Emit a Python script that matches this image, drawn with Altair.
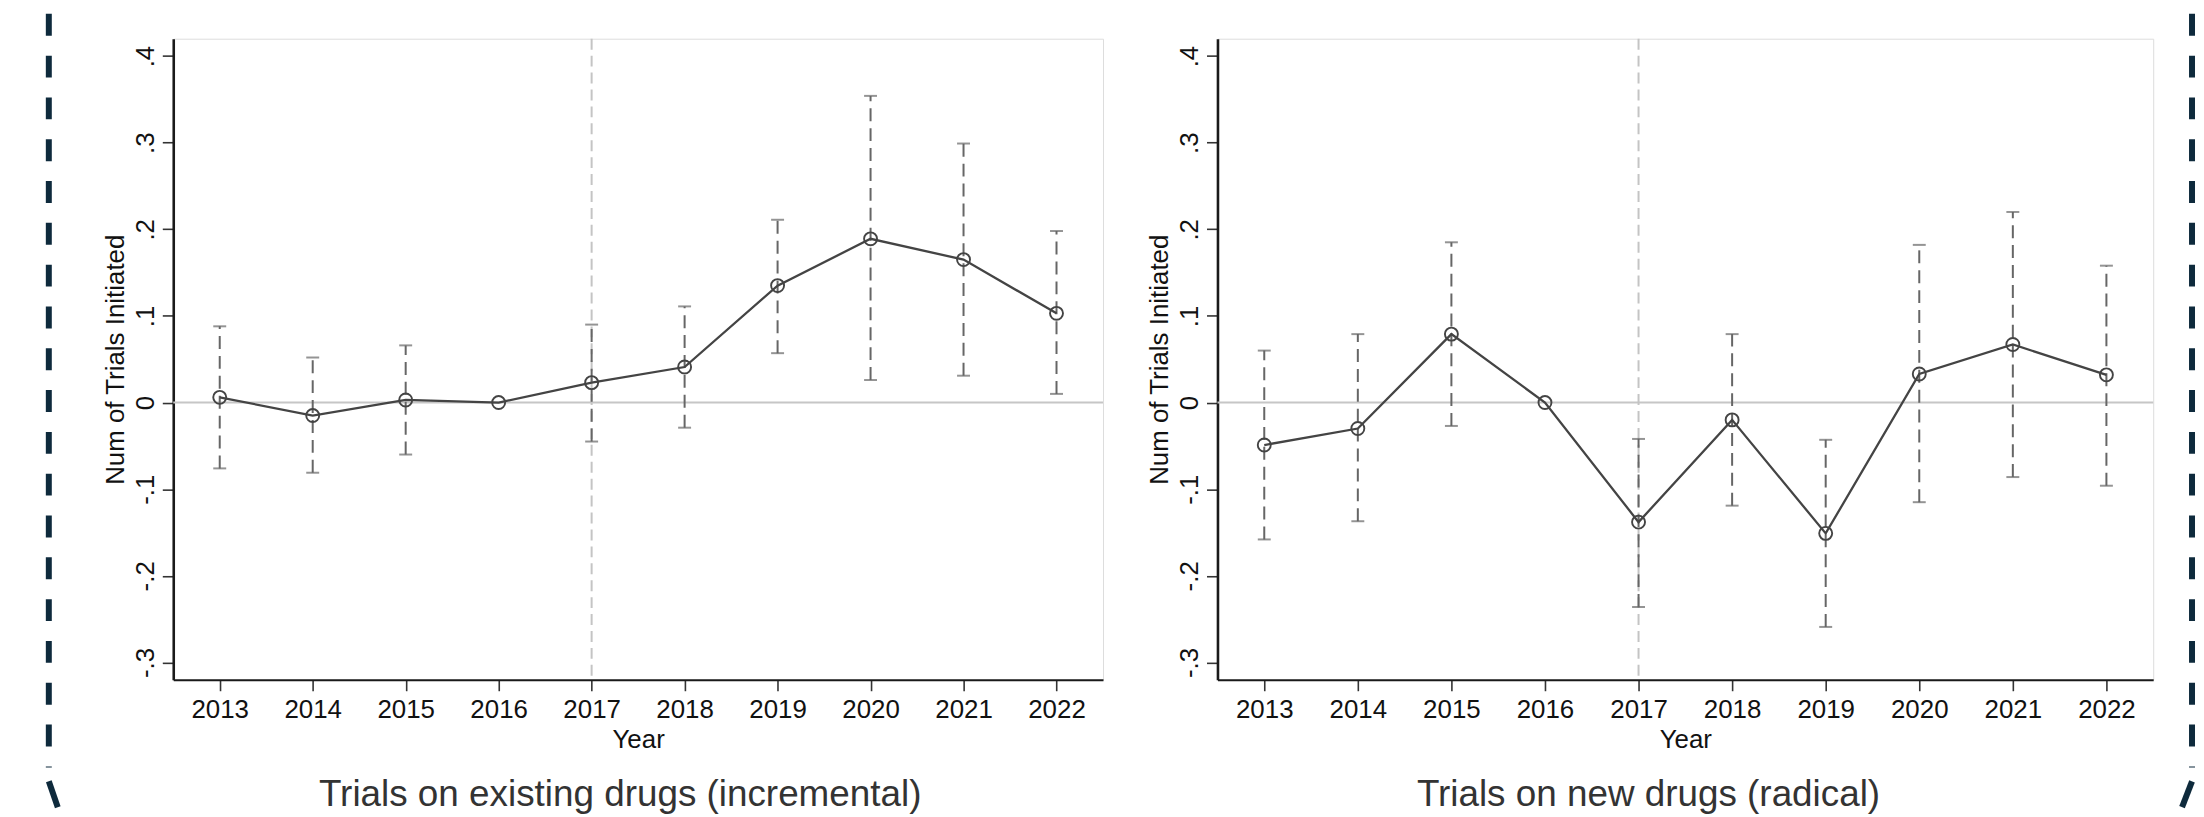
import altair as alt
import pandas as pd

# ---------------- data ----------------
years = [2013, 2014, 2015, 2016, 2017, 2018, 2019, 2020, 2021, 2022]
y_ticks = [-0.3, -0.2, -0.1, 0.0, 0.1, 0.2, 0.3, 0.4]

inc_coef = [0.006, -0.015, 0.003, 0.0, 0.023, 0.041, 0.135, 0.189, 0.165, 0.103]
inc_lo = [-0.076, -0.081, -0.060, None, -0.045, -0.029, 0.057, 0.026, 0.031, 0.010]
inc_hi = [0.088, 0.052, 0.066, None, 0.090, 0.111, 0.211, 0.354, 0.299, 0.198]

rad_coef = [-0.049, -0.030, 0.079, 0.0, -0.138, -0.020, -0.151, 0.033, 0.067, 0.032]
rad_lo = [-0.158, -0.137, -0.027, None, -0.236, -0.119, -0.259, -0.115, -0.086, -0.096]
rad_hi = [0.060, 0.079, 0.185, None, -0.042, 0.079, -0.043, 0.182, 0.220, 0.158]

captions = ["Trials on existing drugs (incremental)", "Trials on new drugs (radical)"]
ref_year = [2017]
zero_value = [0.0]

FONT = "Liberation Sans"
LINE = "#444444"
BAR = "#666666"
NAVY = "#0e2a3c"
PLOT_H = 644

y_label_expr = ("datum.value == 0 ? '0' : (datum.value < 0 ? '-' : '') + '.' + "
                "format(abs(datum.value) * 10, '.0f')")


def x_enc(field):
    return alt.X(
        f"{field}:Q",
        scale=alt.Scale(domain=[2012.5, 2022.5], nice=False, zero=False),
        axis=alt.Axis(values=years, format="d", title="Year", grid=False,
                      tickSize=11, tickWidth=1.6, tickColor="#333",
                      domainColor="#1a1a1a", domainWidth=2.2,
                      labelFont=FONT, labelFontSize=26, labelColor="#111",
                      labelPadding=6, labelFlush=False,
                      titleFont=FONT, titleFontSize=26, titleFontWeight="normal",
                      titleColor="#111", titlePadding=4),
    )


def y_enc(field):
    return alt.Y(
        f"{field}:Q",
        scale=alt.Scale(domain=[-0.32, 0.42], nice=False, zero=False),
        axis=alt.Axis(values=y_ticks, labelExpr=y_label_expr,
                      title="Num of Trials Initiated", grid=False,
                      tickSize=11, tickWidth=1.6, tickColor="#333",
                      domainColor="#1a1a1a", domainWidth=2.6,
                      labelFont=FONT, labelFontSize=26, labelColor="#111",
                      labelAngle=270, labelAlign="center", labelBaseline="bottom",
                      labelPadding=4, labelFlush=False,
                      titleFont=FONT, titleFontSize=26, titleFontWeight="normal",
                      titleColor="#111", titlePadding=4),
    )


def panel(coef, lo, hi, caption, width, dx, deco):
    df = pd.DataFrame({"year": years, "coef": coef, "lo": lo, "hi": hi})
    base = alt.Chart(df)
    bars = base.transform_filter("isValid(datum.lo)")

    zero = alt.Chart(pd.DataFrame({"v": zero_value})).mark_rule(
        color="#c6c6c6", strokeWidth=2).encode(y=y_enc("v"))
    vline = alt.Chart(pd.DataFrame({"yr": ref_year})).mark_rule(
        color="#c4c4c4", strokeWidth=2, strokeDash=[11, 6]).encode(x=x_enc("yr"))

    err = bars.mark_rule(color=BAR, strokeWidth=2, strokeDash=[13, 7]).encode(
        x=x_enc("year"), y=y_enc("lo"), y2="hi:Q")
    cap_lo = bars.mark_tick(color=BAR, size=13, thickness=2, orient="horizontal").encode(
        x=x_enc("year"), y=y_enc("lo"))
    cap_hi = bars.mark_tick(color=BAR, size=13, thickness=2, orient="horizontal").encode(
        x=x_enc("year"), y=y_enc("hi"))
    line = base.mark_line(color=LINE, strokeWidth=2.3).encode(
        x=x_enc("year"), y=y_enc("coef"))
    pts = base.mark_point(shape="circle", filled=False, size=170, color=LINE,
                          strokeWidth=1.9, opacity=1).encode(
        x=x_enc("year"), y=y_enc("coef"))

    # decorative dashed bracket of the slide (not data)
    one = pd.DataFrame({"k": [0]})
    dash = alt.Chart(one).mark_rule(color=NAVY, strokeWidth=6, strokeDash=[22, 20]).encode(
        x=alt.value(deco[0]), y=alt.value(-25), y2=alt.value(732))
    curve = alt.Chart(one).mark_rule(color=NAVY, strokeWidth=6).encode(
        x=alt.value(deco[1]), x2=alt.value(deco[2]), y=alt.value(746), y2=alt.value(772))

    return alt.layer(zero, vline, err, cap_lo, cap_hi, line, pts, dash, curve).properties(
        width=width, height=PLOT_H,
        title=alt.TitleParams(caption, orient="bottom", anchor="middle", frame="group",
                              font=FONT, fontSize=37, fontWeight="normal", color="#333",
                              offset=-33, dx=dx),
    )


left = panel(inc_coef, inc_lo, inc_hi, captions[0], 934, -18, (-125, -125, -116))
right = panel(rad_coef, rad_lo, rad_hi, captions[1], 940, -37, (979, 979, 969))

chart = alt.hconcat(left, right, spacing=41).properties(
    padding={"left": 37, "top": 0, "right": 0, "bottom": 0}
).configure_view(stroke="#555", strokeWidth=2).configure(background="white")

chart.save("out.html", embed_options={"renderer": "svg", "actions": False})
